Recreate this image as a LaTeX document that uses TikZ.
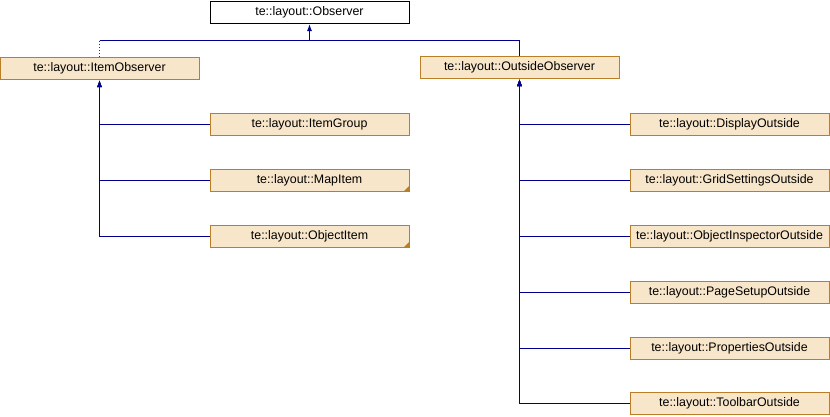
\documentclass[tikz,border=0pt]{standalone}
\usepackage{fontspec}
\setmainfont{Liberation Sans}
\usetikzlibrary{arrows.meta}
\definecolor{boxfill}{RGB}{248,230,202}
\definecolor{boxline}{RGB}{184,126,40}
\definecolor{edgeblue}{RGB}{0,0,140}
\definecolor{edgered}{RGB}{150,10,10}
\tikzset{
  cls/.style={draw=boxline, fill=boxfill, line width=1pt, minimum width=199pt, minimum height=22pt, inner sep=0pt, font=\fontsize{12.4pt}{14pt}\selectfont, anchor=center},
  rootcls/.style={cls, draw=black, fill=white},
  inh/.style={draw=edgeblue, line width=1pt},
  inharr/.style={inh, -{Latex[length=7pt,width=5pt]}},
  prot/.style={draw=edgered, line width=1pt, dotted},
  corner/.style={fill=boxline, draw=none}
}
\begin{document}
\begin{tikzpicture}[x=1pt,y=-1pt]
\useasboundingbox (0,0) rectangle (830,416);
\node[rootcls] (obs) at (309.5,12.5) {te::layout::Observer};
\node[cls] (io) at (99.5,68.5) {te::layout::ItemObserver};
\node[cls] (oo) at (519.5,67.5) {te::layout::OutsideObserver};
\node[cls] (ig) at (309.5,124.5) {te::layout::ItemGroup};
\node[cls] (mi) at (309.5,180) {te::layout::MapItem};
\node[cls] (oi) at (309.5,236) {te::layout::ObjectItem};
\node[cls] (d1) at (729.5,124.5) {te::layout::DisplayOutside};
\node[cls] (d2) at (729.5,180) {te::layout::GridSettingsOutside};
\node[cls] (d3) at (729.5,236) {te::layout::ObjectInspectorOutside};
\node[cls] (d4) at (729.5,292) {te::layout::PageSetupOutside};
\node[cls] (d5) at (729.5,348) {te::layout::PropertiesOutside};
\node[cls] (d6) at (729.5,403.5) {te::layout::ToolbarOutside};
\fill[corner] ([shift={(-0.5,-0.5)}]mi.south east) -- ++(-5,0) -- ++(5,-5) -- cycle;
\fill[corner] ([shift={(-0.5,-0.5)}]oi.south east) -- ++(-5,0) -- ++(5,-5) -- cycle;
\coordinate (j1) at (io.north |- 0,40);
\draw[prot] (io.north) -- (j1);
\draw[inh] (oo.north) |- (j1);
\draw[inharr] (j1) -| (obs.south);
\foreach \c in {ig,mi,oi}{
  \draw[inharr] (\c.west) -| (io.south);
}
\foreach \c in {d1,d2,d3,d4,d5,d6}{
  \draw[inharr] (\c.west) -| (oo.south);
}
\end{tikzpicture}
\end{document}
